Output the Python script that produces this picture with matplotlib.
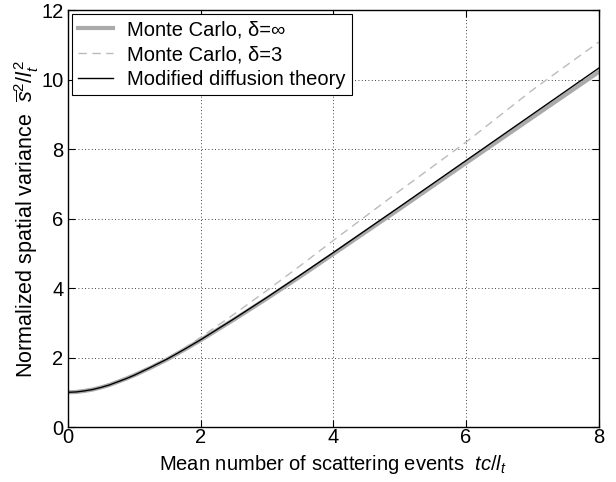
import numpy as np
import matplotlib.pyplot as plt

plt.rcParams['font.family'] = ['Liberation Sans', 'DejaVu Sans']
plt.rcParams['mathtext.fontset'] = 'custom'
plt.rcParams['mathtext.rm'] = 'Liberation Sans'
plt.rcParams['mathtext.it'] = 'Liberation Sans:italic'

# values
x_theory = [0, 0.125, 0.25, 0.375, 0.5, 0.625, 0.75, 0.875, 1.0, 1.25, 1.5, 1.75,
            2.0, 2.5, 3, 3.5, 4, 5, 6, 7, 8]
y_theory = [1.0, 1.01, 1.04, 1.08, 1.14, 1.21, 1.30, 1.39, 1.49, 1.72, 1.96, 2.23,
            2.51, 3.11, 3.73, 4.37, 5.02, 6.34, 7.67, 9.00, 10.33]

x_mc_inf = [0, 0.125, 0.25, 0.375, 0.5, 0.625, 0.75, 0.875, 1.0, 1.25, 1.5, 1.75,
            2.0, 2.5, 3, 3.5, 4, 5, 6, 7, 8]
y_mc_inf = [1.0, 1.01, 1.04, 1.08, 1.14, 1.21, 1.30, 1.39, 1.49, 1.71, 1.95, 2.22,
            2.50, 3.09, 3.70, 4.33, 4.98, 6.28, 7.60, 8.91, 10.22]

x_mc_3 = [0, 0.125, 0.25, 0.375, 0.5, 0.625, 0.75, 0.875, 1.0, 1.25, 1.5, 1.75,
          2.0, 2.5, 3, 3.5, 4, 5, 6, 7, 8]
y_mc_3 = [1.0, 1.01, 1.04, 1.08, 1.14, 1.21, 1.30, 1.39, 1.49, 1.73, 1.99, 2.27,
          2.58, 3.24, 3.93, 4.64, 5.37, 6.80, 8.20, 9.70, 11.08]

fig = plt.figure(figsize=(6.16, 4.82), dpi=100)
ax = fig.add_axes([0.110, 0.114, 0.862, 0.865])

ax.plot(x_mc_inf, y_mc_inf, color='#aaaaaa', lw=3, label=r'Monte Carlo, δ=∞')
ax.plot(x_mc_3, y_mc_3, color='#bbbbbb', lw=1, dashes=(6, 4), label=r'Monte Carlo, δ=3')
ax.plot(x_theory, y_theory, color='black', lw=1, label='Modified diffusion theory')

ax.set_xlim(0, 8)
ax.set_ylim(0, 12)
ax.set_xticks(range(0, 9, 2))
ax.set_yticks(range(0, 13, 2))
ax.grid(True, color='black', linestyle=(0, (1, 3)), linewidth=0.6)
ax.tick_params(direction='in', top=True, right=True, labelsize=14.5, length=5)
ax.tick_params(axis='x', pad=1)
ax.tick_params(axis='y', pad=3)
for s in ax.spines.values():
    s.set_linewidth(1.0)

ax.set_xlabel(r'Mean number of scattering events  $tc/l_t$', fontsize=14.5, labelpad=4)
ax.set_ylabel(r'Normalized spatial variance  $\overline{s}^2/l_t^2$', fontsize=15.5, labelpad=0)

leg = ax.legend(loc='upper left', fontsize=14.5, fancybox=False, framealpha=1,
                edgecolor='black', borderaxespad=0.2, handlelength=1.75,
                borderpad=0.3, labelspacing=0.3, handletextpad=0.7)
leg.get_frame().set_linewidth(0.8)

fig.savefig('out.png', dpi=100)
